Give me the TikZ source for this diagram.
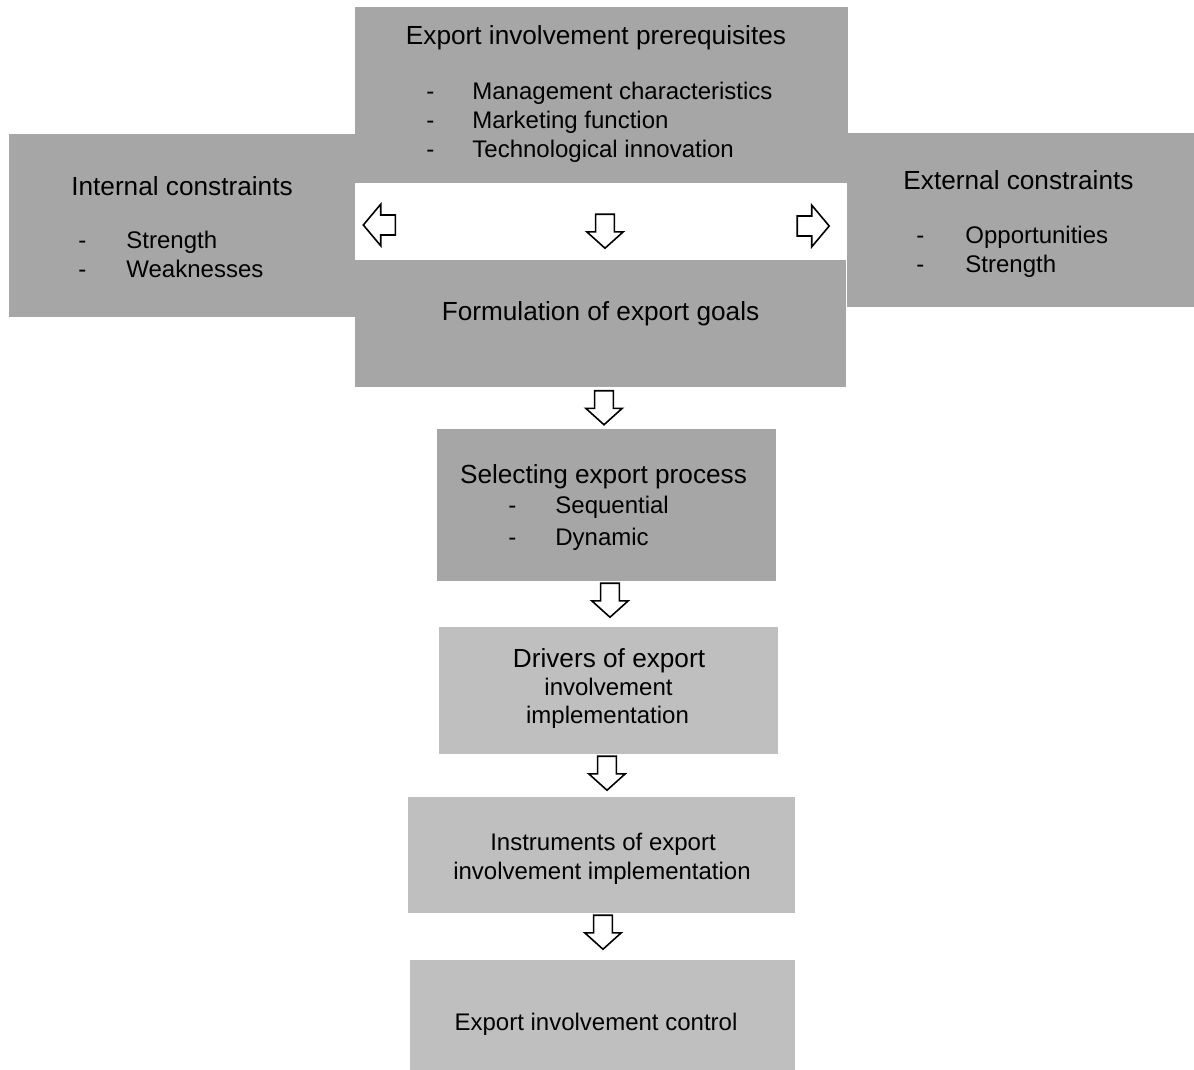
\documentclass[tikz,border=0pt]{standalone}
\usepackage{fontspec}
\setmainfont{Liberation Sans}
\usepackage{xcolor}
\usepackage{tikz}
\usetikzlibrary{backgrounds}
\usetikzlibrary{shapes,shapes.arrows,positioning}
\pgfdeclarelayer{edgelayer}
\pgfdeclarelayer{nodelayer}
\pgfsetlayers{background,edgelayer,nodelayer,main}
\definecolor{darkgrey}{RGB}{166,166,166}
\definecolor{lightgrey}{RGB}{191,191,191}
\tikzstyle{none}=[inner sep=0mm]
\tikzstyle{box}=[inner sep=0mm,draw=none,shape=rectangle]
\tikzstyle{dbox}=[box,fill=darkgrey]
\tikzstyle{lbox}=[box,fill=lightgrey]
\tikzstyle{head}=[inner sep=0mm,font=\fontsize{13.1}{15}\selectfont,text height=9.4pt,text depth=0pt]
\tikzstyle{item}=[inner sep=0mm,font=\fontsize{12}{14}\selectfont,text height=8.6pt,text depth=0pt,anchor=west]
\tikzstyle{blockarrow}=[single arrow,draw=black,fill=white,line width=0.8pt,outer sep=0pt]
\tikzstyle{down}=[blockarrow,inner sep=4.3pt,minimum height=17pt,minimum width=18pt,single arrow head extend=4.4pt,single arrow tip angle=96,shape border rotate=270]
\tikzstyle{side}=[blockarrow,inner sep=4.6pt,minimum height=16pt,minimum width=20pt,single arrow head extend=5.4pt,single arrow tip angle=100]

\begin{document}
\begin{tikzpicture}[x=0.5pt,y=-0.5pt]
	\useasboundingbox (0,0) rectangle (1194,1070);
	\begin{pgfonlayer}{edgelayer}
		\node [style=dbox,minimum width=173pt,minimum height=91.5pt] (internal) at (182,225.5) {};
		\node [style=dbox,minimum width=173.5pt,minimum height=87pt] (external) at (1020.5,220) {};
		\node [style=dbox,minimum width=246.5pt,minimum height=88pt] (prereq) at (601.5,95) {};
		\node [style=dbox,minimum width=245.5pt,minimum height=63.5pt] (goals) at (600.5,323.5) {};
		\node [style=dbox,minimum width=169.5pt,minimum height=76pt] (process) at (606.5,505) {};
		\node [style=lbox,minimum width=169.5pt,minimum height=63.5pt] (drivers) at (608.5,690.5) {};
		\node [style=lbox,minimum width=193.5pt,minimum height=58pt] (instruments) at (601.5,855) {};
		\node [style=lbox,minimum width=192.5pt,minimum height=55pt] (control) at (602.5,1015) {};
	\end{pgfonlayer}
	\begin{pgfonlayer}{nodelayer}
		% texts
		\node [style=head] (prereq-t) at (596,35) {Export involvement prerequisites};
		\node [style=item] (prereq-d1) at (426,91) {-};
		\node [style=item] (prereq-d2) at (426,120) {-};
		\node [style=item] (prereq-d3) at (426,149) {-};
		\node [style=item] (prereq-i1) at (472,91) {Management characteristics};
		\node [style=item] (prereq-i2) at (472,120) {Marketing function};
		\node [style=item] (prereq-i3) at (472,149) {Technological innovation};
		\node [style=head] (internal-t) at (182,186) {Internal constraints};
		\node [style=item] (internal-d1) at (78,240) {-};
		\node [style=item] (internal-d2) at (78,269) {-};
		\node [style=item] (internal-i1) at (126,240) {Strength};
		\node [style=item] (internal-i2) at (126,269) {Weaknesses};
		\node [style=head] (external-t) at (1018.5,180) {External constraints};
		\node [style=item] (external-d1) at (916,235) {-};
		\node [style=item] (external-d2) at (916,264) {-};
		\node [style=item] (external-i1) at (965,235) {Opportunities};
		\node [style=item] (external-i2) at (965,264) {Strength};
		\node [style=head] (goals-t) at (600.5,311) {Formulation of export goals};
		\node [style=head] (process-t) at (603.5,474) {Selecting export process};
		\node [style=item] (process-d1) at (508,505) {-};
		\node [style=item] (process-d2) at (508,537) {-};
		\node [style=item] (process-i1) at (555,505) {Sequential};
		\node [style=item] (process-i2) at (555,537) {Dynamic};
		\node [style=head] (drivers-t1) at (609,658) {Drivers of export};
		\node [style=item,anchor=center] (drivers-t2) at (608.5,687) {involvement};
		\node [style=item,anchor=center] (drivers-t3) at (607.5,715) {implementation};
		\node [style=item,anchor=center] (instruments-t1) at (603,842) {Instruments of export};
		\node [style=item,anchor=center] (instruments-t2) at (602,871) {involvement implementation};
		\node [style=item,anchor=center] (control-t) at (596,1022) {Export involvement control};
		% block arrows
		\node [style=side,shape border rotate=180] (a1) at (383.5,225) {};
		\node [style=down] (a2) at (605,227) {};
		\node [style=side] (a3) at (809,226) {};
		\node [style=down] (a4) at (604,403.5) {};
		\node [style=down] (a5) at (610,596) {};
		\node [style=down] (a6) at (607,769) {};
		\node [style=down] (a7) at (603,928) {};
	\end{pgfonlayer}
\end{tikzpicture}
\end{document}
